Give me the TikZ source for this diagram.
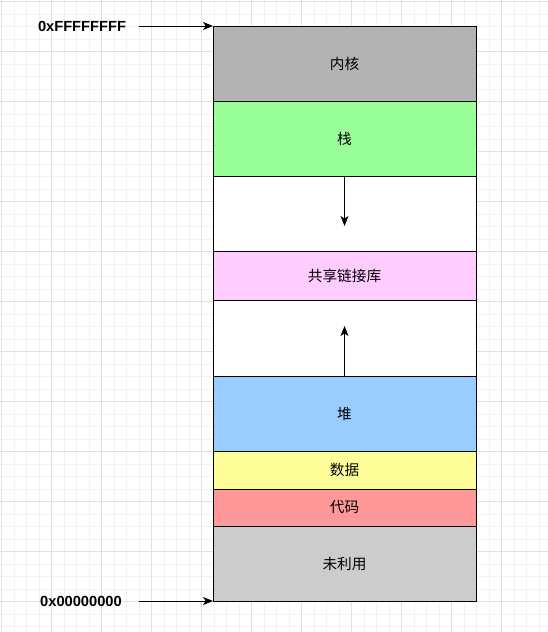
\documentclass[tikz,border=0pt]{standalone}
\usepackage{fontspec}
\setmainfont{Liberation Sans}
\newfontfamily\cjk{Noto Sans CJK SC}
\usetikzlibrary{arrows.meta}
\definecolor{kernelGray}{HTML}{B3B3B3}
\definecolor{stackGreen}{HTML}{99FF99}
\definecolor{libPink}{HTML}{FFCCFF}
\definecolor{heapBlue}{HTML}{99CCFF}
\definecolor{dataYellow}{HTML}{FFFF99}
\definecolor{codeRed}{HTML}{FF9999}
\definecolor{unusedGray}{HTML}{CCCCCC}
\definecolor{gridMinor}{HTML}{F2F2F2}
\definecolor{gridMajor}{HTML}{E0E0E0}

\begin{document}
\begin{tikzpicture}[x=0.75pt,y=-0.75pt,
    block/.style={draw,line width=0.75pt,anchor=north west,inner sep=0pt,outer sep=0pt,
        minimum width=197.25pt,font=\cjk\fontsize{11}{13}\selectfont},
    addr/.style={font=\bfseries\fontsize{11}{13}\selectfont},
    arr/.style={line width=0.75pt,-{Stealth[length=7.5pt,width=6pt,inset=2pt]}}]
    \useasboundingbox (0,0) rectangle (548,632);

    % draw grid
    \foreach \i in {0,...,44}
        \draw[gridMinor,line width=0.5pt] ({1.7+12.5*\i},0) -- ({1.7+12.5*\i},632);
    \foreach \i in {0,...,51}
        \draw[gridMinor,line width=0.5pt] (0,{1.7+12.5*\i}) -- (548,{1.7+12.5*\i});
    \foreach \i in {0,...,10}
        \draw[gridMajor,line width=0.6pt] ({1.7+50*\i},0) -- ({1.7+50*\i},632);
    \foreach \i in {0,...,12}
        \draw[gridMajor,line width=0.6pt] (0,{1.7+50*\i}) -- (548,{1.7+50*\i});

    % draw memory blocks
    \node[block,fill=kernelGray,minimum height=56.25pt] (kernel) at (213,26) {内核};
    \node[block,fill=stackGreen,minimum height=56.25pt] (stack) at (213,101) {栈};
    \node[block,fill=white,minimum height=56.25pt] (gapTop) at (213,176) {};
    \node[block,fill=libPink,minimum height=36.75pt] (shlib) at (213,251) {共享链接库};
    \node[block,fill=white,minimum height=57pt] (gapBottom) at (213,300) {};
    \node[block,fill=heapBlue,minimum height=56.25pt] (heap) at (213,376) {堆};
    \node[block,fill=dataYellow,minimum height=28.5pt] (data) at (213,451) {数据};
    \node[block,fill=codeRed,minimum height=27.75pt] (code) at (213,489) {代码};
    \node[block,fill=unusedGray,minimum height=56.25pt] (unused) at (213,526) {未利用};

    % draw growth arrows
    \coordinate (stackTip) at (344.5,226);
    \coordinate (heapTip) at (344.5,326);
    \draw[arr] (stack.south) -- (stackTip);
    \draw[arr] (heap.north) -- (heapTip);

    % draw addresses
    \node[addr] (topAddr) at (82,26) {0xFFFFFFFF};
    \node[addr] (bottomAddr) at (81,601) {0x00000000};
    \coordinate (topStart) at (139,26);
    \coordinate (bottomStart) at (139,601);
    \draw[arr] (topStart) -- (kernel.north west);
    \draw[arr] (bottomStart) -- (unused.south west);
\end{tikzpicture}
\end{document}
